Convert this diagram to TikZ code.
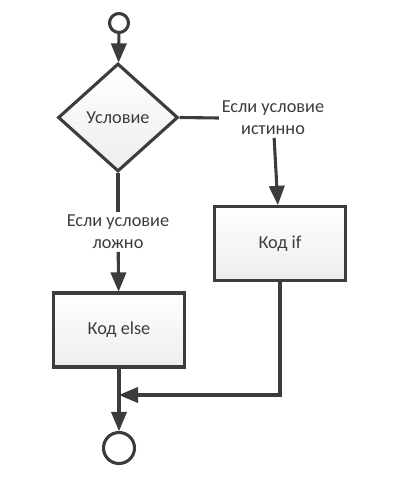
\documentclass[tikz,border=0pt]{standalone}
\usepackage{fontspec}
\setmainfont{Carlito}
\usetikzlibrary{arrows,shapes.geometric}
\definecolor{ink}{HTML}{3C3C3C}

\begin{document}
\begin{tikzpicture}[x=0.025cm,y=-0.025cm,->,>=triangle 45,line width=2.2pt,draw=ink,
  every node/.style={font=\fontsize{13}{15.5}\selectfont,text=ink},
  term node/.style={circle,draw=ink,fill=white,inner sep=0pt},
  cond node/.style={diamond,draw=ink,top color=white,bottom color=gray!14,inner sep=0pt,minimum width=120*0.025cm,minimum height=108*0.025cm},
  code node/.style={rectangle,draw=ink,top color=white,bottom color=gray!14,minimum width=131*0.025cm,minimum height=74*0.025cm},
  label node/.style={align=center,inner sep=1pt}]
  \useasboundingbox (0,0) rectangle (400,479);
  \node[term node,minimum size=19*0.025cm] (start) at (119,23) {};
  \node[cond node] (cond) at (118,117.5) {Условие};
  \node[label node] (true) at (273,118) {Если условие\\истинно};
  \node[code node] (if) at (280,243.5) {Код if};
  \node[label node] (false) at (118,232) {Если условие\\ложно};
  \node[code node] (else) at (119,330) {Код else};
  \node[term node,minimum size=31*0.025cm] (stop) at (119,448) {};
  \coordinate (join) at (119,395);

\path[ink]
  (start) edge (cond)
  (cond.east) edge[-] (true.west)
  (true) edge (if)
  (cond.south) edge[-] (false)
  (false) edge (else)
  (else) edge (stop)
;
\draw[ink] (if.south) |- (join);
\end{tikzpicture}
\end{document}
